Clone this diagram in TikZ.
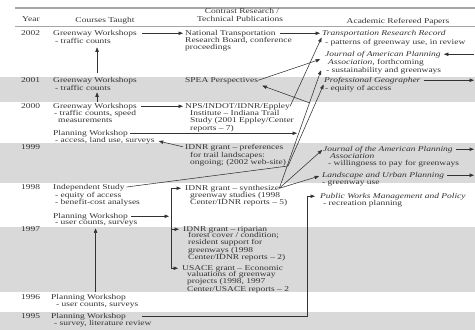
\documentclass[tikz,border=0pt]{standalone}
\usepackage{fontspec}
\setmainfont{Liberation Serif}[FakeStretch=1.28]
\usetikzlibrary{arrows.meta}
\definecolor{bandgray}{gray}{0.85}
\definecolor{ink}{gray}{0.2}
\tikzset{
  every node/.style={inner sep=0pt, text=ink, font=\fontsize{7.4}{7.4}\selectfont},
  head/.style={anchor=base},
  title/.style={anchor=base west, text height=5pt, text depth=1.5pt},
  sub/.style={anchor=base west, align=left},
  link/.style={draw=ink, line width=0.55pt, -{Triangle[length=4.5pt,width=3.4pt]}},
  plain/.style={draw=ink, line width=0.55pt}
}

\begin{document}
\begin{tikzpicture}[x=1pt,y=-1pt]
\useasboundingbox (0,0) rectangle (475,330);
\fill[bandgray] (0,77) rectangle (475,102);
\fill[bandgray] (0,143) rectangle (475,183);
\fill[bandgray] (0,227) rectangle (475,292);
\fill[bandgray] (0,312) rectangle (475,330);
\draw[gray!70, line width=1.2pt] (15,8) -- (475,8);
\draw[gray!70, line width=0.5pt] (15,26) -- (475,26);

\node[anchor=base west] (hyear) at (22,21) {Year};
\node[head] (hcourse) at (105,22) {Courses Taught};
\node[head] (hcontr) at (242,13) {Contrast Research /};
\node[head] (htech) at (240,21) {Technical Publications};
\node[head] (hpaper) at (398,23) {Academic Refereed Papers};

\node[title] (y02) at (21,35) {2002};
\node[title] (y01) at (21,82) {2001};
\node[title] (y00) at (21,108) {2000};
\node[title] (y99) at (21,149) {1999};
\node[title] (y98) at (21,189) {1998};
\node[title] (y97) at (21,231) {1997};
\node[title] (y96) at (21,299) {1996};
\node[title] (y95) at (21,318) {1995};

% multi-line nodes sit on their last line
\node[title] (gw02) at (53,35) {Greenway Workshops};
\node[sub] (gw02s) at (55,43) {- traffic counts};
\node[title] (gw01) at (53,82) {Greenway Workshops};
\node[sub] (gw01s) at (55,90) {- traffic counts};
\node[title] (gw00) at (53,108) {Greenway Workshops};
\node[sub] (gw00s) at (54,122.8) {- traffic counts, speed\\\hspace{4pt}measurements};
\node[title] (pw00) at (53,135) {Planning Workshop};
\node[sub] (pw00s) at (55,142) {- access, land use, surveys};
\node[title] (ind) at (53,189) {Independent Study};
\node[sub] (inds) at (55,204.4) {- equity of access\\- benefit-cost analyses};
\node[title] (pw98) at (53,218) {Planning Workshop};
\node[sub] (pw98s) at (55,224.5) {- user counts, surveys};
\node[title] (pw96) at (51,299) {Planning Workshop};
\node[sub] (pw96s) at (56,306) {- user counts, surveys};
\node[title] (pw95) at (51,318) {Planning Workshop};
\node[sub] (pw95s) at (54,325) {- survey, literature review};

\node[title] (nt) at (185,35) {National Transportation};
\node[sub] (nts) at (185,49.9) {Research Board, conference\\proceedings};
\node[title] (spea) at (185,82) {SPEA Perspectives};
\node[title] (nps) at (185,108) {NPS/INDOT/IDNR/Eppley};
\node[sub] (npss) at (190,130.3) {Institute -- Indiana Trail\\Study (2001 Eppley/Center\\reports -- 7)};
\node[title] (idnrp) at (185,149) {IDNR grant -- preferences};
\node[sub] (idnrps) at (190,164.4) {for trail landscapes:\\ongoing; (2002 web-site)};
\node[title] (syn) at (185,190) {IDNR grant -- synthesize};
\node[sub] (syns) at (190,204.4) {greenway studies (1998\\Center/IDNR reports -- 5)};
\node[title] (rip) at (183,231) {IDNR grant -- riparian};
\node[sub] (rips) at (188,259.6) {forest cover / condition;\\resident support for\\greenways (1998\\Center/IDNR reports -- 2)};
\node[title] (usace) at (182,270) {USACE grant -- Economic};
\node[sub] (usaces) at (187,291) {valuations of greenway\\projects (1998, 1997\\Center/USACE reports -- 2};

\node[title] (trr) at (322,35) {\textit{Transportation Research Record}};
\node[sub] (trrs) at (325,44) {- patterns of greenway use, in review};
\node[title] (japa) at (325,56) {\textit{Journal of American Planning}};
\node[sub] (japas) at (328,64) {\textit{Association}, forthcoming};
\node[sub] (japat) at (326,72) {- sustainability and greenways};
\node[title] (pg) at (324,82) {\textit{Professional Geographer}};
\node[sub] (pgs) at (325,90) {- equity of access};
\node[title] (jap) at (323,151) {\textit{Journal of the American Planning}};
\node[sub] (japs) at (328,165.4) {\hspace{2pt}\textit{Association}\\- willingness to pay for greenways};
\node[title] (lup) at (322,177) {\textit{Landscape and Urban Planning}};
\node[sub] (lups) at (322,184) {- greenway use};
\node[title] (pwm) at (320,198) {\textit{Public Works Management and Policy}};
\node[sub] (pwms) at (323,205) {- recreation planning};

\coordinate (edge) at (474,0);
\coordinate (kink) at (288,166);
\coordinate (fork) at (310,103);
\coordinate (pwend) at (297,0);
\coordinate (bx) at (171,0);
\coordinate (cx) at (307,0);

% courses up the years
\draw[link, shorten <=4pt, shorten >=4pt] ([xshift=2pt]gw01.north) -- ([xshift=2pt]gw01.north |- gw02s.south);
\draw[link, shorten <=1pt, shorten >=2pt] ([xshift=2pt]gw00.north) -- ([xshift=2pt]gw00.north |- gw01s.south);
\draw[link, shorten <=2pt, shorten >=2pt] ([xshift=7pt]pw96.north) -- ([xshift=7pt]pw96.north |- pw98s.south);

% courses to research
\draw[link, shorten <=5pt, shorten >=2pt] (gw02.east) -- (nt.west);
\draw[link, shorten <=4pt, shorten >=2pt] (gw00.east) -- (nps.west);
\draw[link, shorten <=2pt] (pw00.east) -- (pw00.east -| pwend);
\draw[link, shorten <=2pt, shorten >=4pt] (idnrp.west) -- (pw00s.east);
\draw[link, shorten <=3pt, shorten >=2pt] (pw98.east) -- (pw98.east -| bx);
\draw[plain] (syn.west -| bx) -- (usace.west -| bx);
\draw[link, shorten >=4pt] (syn.west -| bx) -- (syn.west);
\draw[link, shorten >=4pt] (rip.west -| bx) -- (rip.west);
\draw[link, shorten >=4pt] (usace.west -| bx) -- (usace.west);
\draw[link, shorten <=16pt, shorten >=5pt] (pw95.east) -- (pw95.east -| cx) -- (pwm.west -| cx) -- (pwm.west);

% research to papers
\draw[link, shorten <=4pt, shorten >=2pt] (nt.east) -- (trr.west);
\draw[link, shorten >=1pt] (nps.east) -- (trr.south west);
\draw[link, shorten >=5pt] (spea.east) -- (japa.south west);
\draw[link] (fork) -- ([xshift=4pt,yshift=-2pt]spea.south east);
\draw[link, shorten <=2pt, shorten >=1pt] (ind.east) -- (kink) -- (pg.south west);
\draw[link] (syn.east) -- ([xshift=-5pt]japat.west);
\draw[link, shorten >=1pt] (syn.east) -- (jap.west);
\draw[link, shorten >=3pt] (syn.east) -- (lup.west);

% papers out
\draw[link, shorten >=3pt] (japa.east -| edge) -- (japa.east);
\draw[link, shorten <=3pt] (pg.east) -- (pg.east -| edge);
\draw[link, shorten <=3pt] (jap.east) -- (jap.east -| edge);
\draw[link, shorten <=3pt] (lup.east) -- (lup.east -| edge);
\end{tikzpicture}
\end{document}
